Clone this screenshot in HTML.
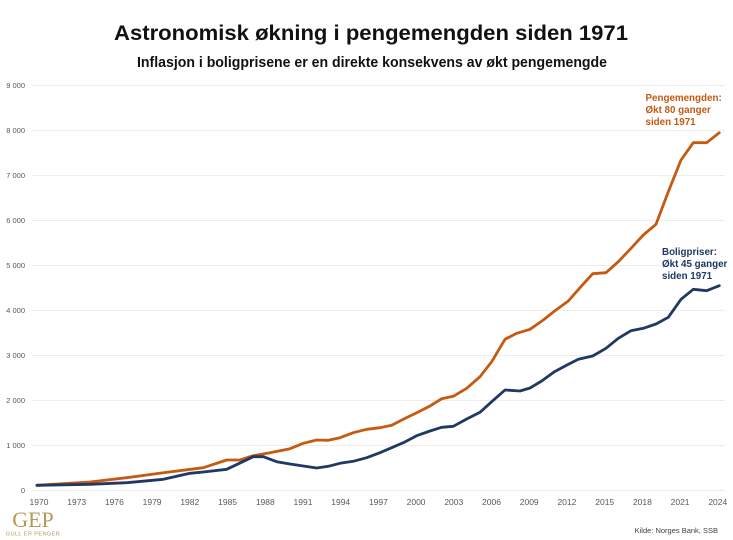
<!DOCTYPE html>
<html>
<head>
<meta charset="utf-8">
<style>
  html,body{margin:0;padding:0;background:#fff;}
  svg{display:block;}
  text{font-family:"Liberation Sans",sans-serif;}
</style>
</head>
<body>
<svg width="733" height="540" viewBox="0 0 733 540" xmlns="http://www.w3.org/2000/svg">
  <rect width="733" height="540" fill="#fff"/>
  <!-- Title -->
  <text x="371" y="40" text-anchor="middle" font-size="21.5" font-weight="bold" fill="#111" textLength="514" lengthAdjust="spacingAndGlyphs">Astronomisk økning i pengemengden siden 1971</text>
  <text x="372" y="67" text-anchor="middle" font-size="14.5" font-weight="bold" fill="#111" textLength="470" lengthAdjust="spacingAndGlyphs">Inflasjon i boligprisene er en direkte konsekvens av økt pengemengde</text>

  <!-- Gridlines -->
  <g stroke="#ececec" stroke-width="1">
    <line x1="32" y1="85.5" x2="725" y2="85.5"/>
    <line x1="32" y1="130.5" x2="725" y2="130.5"/>
    <line x1="32" y1="175.5" x2="725" y2="175.5"/>
    <line x1="32" y1="220.5" x2="725" y2="220.5"/>
    <line x1="32" y1="265.5" x2="725" y2="265.5"/>
    <line x1="32" y1="310.5" x2="725" y2="310.5"/>
    <line x1="32" y1="355.5" x2="725" y2="355.5"/>
    <line x1="32" y1="400.5" x2="725" y2="400.5"/>
    <line x1="32" y1="445.5" x2="725" y2="445.5"/>
    <line x1="32" y1="490.5" x2="725" y2="490.5"/>
  </g>

  <!-- Y labels -->
  <g font-size="7.5" fill="#595959" text-anchor="end">
    <text x="25" y="88">9 000</text>
    <text x="25" y="133">8 000</text>
    <text x="25" y="178">7 000</text>
    <text x="25" y="223">6 000</text>
    <text x="25" y="268">5 000</text>
    <text x="25" y="313">4 000</text>
    <text x="25" y="358">3 000</text>
    <text x="25" y="403">2 000</text>
    <text x="25" y="448">1 000</text>
    <text x="25" y="493">0</text>
  </g>

  <!-- X labels -->
  <g font-size="8.5" fill="#595959" text-anchor="middle">
    <text x="39" y="505">1970</text>
    <text x="76.7" y="505">1973</text>
    <text x="114.4" y="505">1976</text>
    <text x="152.1" y="505">1979</text>
    <text x="189.8" y="505">1982</text>
    <text x="227.6" y="505">1985</text>
    <text x="265.3" y="505">1988</text>
    <text x="303" y="505">1991</text>
    <text x="340.7" y="505">1994</text>
    <text x="378.4" y="505">1997</text>
    <text x="416.1" y="505">2000</text>
    <text x="453.8" y="505">2003</text>
    <text x="491.5" y="505">2006</text>
    <text x="529.2" y="505">2009</text>
    <text x="566.9" y="505">2012</text>
    <text x="604.7" y="505">2015</text>
    <text x="642.4" y="505">2018</text>
    <text x="680.1" y="505">2021</text>
    <text x="717.8" y="505">2024</text>
  </g>

  <!-- Series: money supply (orange) -->
  <polyline fill="none" stroke="#C55A11" stroke-width="2.8" stroke-linejoin="round" stroke-linecap="round"
    points="37,485.3 90,482 126.7,477.7 163.3,472.7 203.3,467.7 226.7,460 240,460 253,455.7 263,454 270,452.7 280,450.7 290,448.7 303.3,443.3 316.7,440 328.3,440.3 340,437.7 353.3,432.7 366.7,429.3 380,427.7 391.7,425.3 403.3,419.3 416.7,412.7 430,406 441.7,398.7 453.3,396.3 466.7,388.3 480,376.7 491.7,361.7 505,339.3 516.7,333.3 530,329.3 543.3,320 555,310.7 568.3,301 580,287.7 592.7,273.7 606,272.7 618.3,261.7 631,248.3 643.3,235 656,224.3 668.3,191.7 681,160 693.3,142.7 706.7,142.7 719.3,132.7"/>

  <!-- Series: house prices (navy) -->
  <polyline fill="none" stroke="#1F3864" stroke-width="2.8" stroke-linejoin="round" stroke-linecap="round"
    points="37,485.3 90,484.3 126.7,482.7 163.3,479.3 190,473.3 203.3,472 226.7,469.3 253.3,456.7 263.3,456.7 276.7,461.7 290,464 303.3,466 316.7,468 328.3,466.3 340,463.3 353.3,461.3 366.7,457.7 380,452.7 391.7,447.7 403.3,442.7 416.7,435.7 430,431 441.7,427.3 453.3,426.3 466.7,419 480,412.3 491.7,401.7 505,390 520,391 530,388 541.7,381 554,372 567,365 578.3,359.3 592.7,356 606,348.3 618.3,338.3 631,330.7 643.3,328.3 656,324 668.3,317.3 681,299.3 693.3,289.3 706.7,290.7 719.3,285.7"/>

  <!-- Annotations -->
  <g font-size="9.8" font-weight="bold" fill="#C55A11">
    <text x="645.5" y="101">Pengemengden:</text>
    <text x="645.5" y="113">Økt 80 ganger</text>
    <text x="645.5" y="125">siden 1971</text>
  </g>
  <g font-size="9.8" font-weight="bold" fill="#1F3864">
    <text x="662" y="255">Boligpriser:</text>
    <text x="662" y="267">Økt 45 ganger</text>
    <text x="662" y="279">siden 1971</text>
  </g>

  <!-- Logo -->
  <text x="33" y="527" text-anchor="middle" font-size="22" fill="#B8975A" style="font-family:'Liberation Serif',serif">GEP</text>
  <text x="33" y="535.5" text-anchor="middle" font-size="5.6" fill="#B8975A" letter-spacing="0.4">GULL ER PENGER</text>

  <!-- Source -->
  <text x="718" y="533" text-anchor="end" font-size="7.5" fill="#404040">Kilde: Norges Bank, SSB</text>
</svg>
</body>
</html>
